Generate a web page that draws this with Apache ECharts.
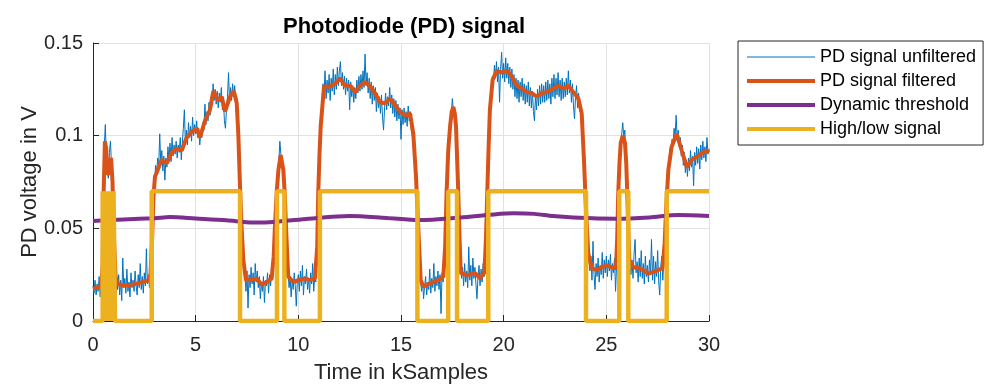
<!DOCTYPE html>
<html><head><meta charset="utf-8">
<script src="https://cdn.jsdelivr.net/npm/echarts@6/dist/echarts.min.js"></script>
<style>html,body{margin:0;padding:0;background:#fff}#c{width:987px;height:385px}</style>
</head><body><div id="c"></div>
<script>
// ---- data (time in kSamples, voltage in V) ----
const rawStep = 0.05; // sample spacing of the unfiltered trace (kSamples)
const rawPD = [
0.019,0.015,0.022,0.014,0.020,0.016,0.024,0.013,0.021,0.027,0.068,0.094,0.106,0.088,0.080,0.077,0.091,0.097,0.084,0.070,
0.052,0.031,0.004,0.023,0.017,0.025,0.014,0.022,0.011,0.034,0.018,0.023,0.015,0.028,0.016,0.021,0.013,0.026,0.018,0.022,
0.016,0.027,0.019,0.014,0.025,0.018,0.031,0.017,0.024,0.015,0.026,0.019,0.039,0.020,0.025,0.018,0.027,0.036,0.058,0.071,
0.076,0.084,0.079,0.088,0.083,0.101,0.085,0.092,0.081,0.089,0.076,0.088,0.083,0.094,0.087,0.096,0.086,0.099,0.089,0.095,
0.090,0.097,0.088,0.095,0.091,0.099,0.087,0.096,0.104,0.114,0.096,0.103,0.095,0.107,0.099,0.105,0.097,0.110,0.100,0.106,
0.101,0.108,0.099,0.104,0.095,0.102,0.099,0.107,0.103,0.117,0.106,0.113,0.108,0.118,0.111,0.121,0.117,0.128,0.119,0.125,
0.117,0.124,0.115,0.123,0.118,0.126,0.114,0.120,0.108,0.104,0.114,0.121,0.134,0.118,0.126,0.119,0.128,0.121,0.127,0.119,
0.121,0.110,0.095,0.075,0.058,0.045,0.035,0.027,0.024,0.016,0.027,0.007,0.025,0.018,0.029,0.020,0.026,0.014,0.031,0.021,
0.027,0.018,0.024,0.012,0.021,0.016,0.024,0.010,0.022,0.019,0.026,0.015,0.025,0.019,0.027,0.022,0.037,0.052,0.064,0.072,
0.079,0.086,0.097,0.090,0.086,0.080,0.072,0.063,0.050,0.036,0.026,0.018,0.024,0.013,0.022,0.017,0.026,0.019,0.008,0.021,
0.025,0.016,0.027,0.019,0.030,0.014,0.024,0.020,0.028,0.017,0.023,0.015,0.026,0.020,0.031,0.016,0.024,0.021,0.034,0.058,
0.080,0.098,0.108,0.118,0.128,0.122,0.135,0.120,0.130,0.123,0.133,0.119,0.131,0.124,0.136,0.122,0.133,0.125,0.137,0.127,
0.135,0.140,0.127,0.134,0.125,0.132,0.122,0.131,0.124,0.130,0.114,0.129,0.121,0.127,0.118,0.126,0.120,0.130,0.123,0.132,
0.124,0.133,0.125,0.135,0.126,0.144,0.127,0.134,0.123,0.131,0.120,0.129,0.117,0.127,0.119,0.126,0.113,0.123,0.115,0.121,
0.112,0.122,0.110,0.103,0.115,0.123,0.114,0.121,0.116,0.126,0.115,0.122,0.112,0.120,0.110,0.119,0.108,0.117,0.109,0.115,
0.098,0.114,0.106,0.115,0.107,0.113,0.105,0.116,0.108,0.113,0.103,0.104,0.097,0.090,0.083,0.072,0.060,0.046,0.032,0.022,
0.016,0.022,0.012,0.019,0.024,0.014,0.021,0.017,0.028,0.015,0.023,0.018,0.031,0.016,0.024,0.019,0.027,0.017,0.025,0.004,
0.026,0.021,0.028,0.042,0.064,0.082,0.094,0.102,0.108,0.112,0.120,0.114,0.113,0.106,0.094,0.078,0.061,0.044,0.030,0.023,
0.029,0.019,0.031,0.021,0.027,0.018,0.040,0.022,0.030,0.019,0.034,0.023,0.029,0.020,0.012,0.024,0.030,0.019,0.028,0.021,
0.031,0.024,0.033,0.047,0.068,0.092,0.108,0.118,0.124,0.132,0.128,0.138,0.131,0.140,0.129,0.137,0.118,0.136,0.145,0.131,
0.139,0.129,0.142,0.131,0.139,0.128,0.137,0.126,0.136,0.125,0.133,0.121,0.131,0.120,0.130,0.118,0.129,0.121,0.131,0.119,
0.128,0.117,0.127,0.118,0.129,0.116,0.126,0.115,0.124,0.113,0.108,0.122,0.114,0.125,0.116,0.127,0.117,0.128,0.118,0.127,
0.118,0.129,0.119,0.130,0.120,0.128,0.117,0.131,0.121,0.133,0.120,0.131,0.122,0.134,0.121,0.130,0.119,0.131,0.120,0.129,
0.121,0.131,0.122,0.135,0.123,0.130,0.118,0.128,0.116,0.109,0.121,0.127,0.115,0.123,0.113,0.117,0.108,0.099,0.088,0.073,
0.060,0.048,0.039,0.033,0.027,0.035,0.022,0.043,0.025,0.017,0.031,0.024,0.034,0.021,0.030,0.025,0.037,0.023,0.033,0.026,
0.035,0.024,0.033,0.027,0.036,0.022,0.031,0.026,0.034,0.016,0.030,0.050,0.073,0.088,0.097,0.101,0.107,0.099,0.103,0.090,
0.075,0.056,0.038,0.030,0.025,0.033,0.023,0.036,0.044,0.026,0.032,0.021,0.034,0.024,0.038,0.023,0.031,0.020,0.035,0.024,
0.030,0.021,0.033,0.025,0.044,0.022,0.035,0.020,0.032,0.024,0.038,0.021,0.014,0.029,0.035,0.022,0.032,0.045,0.062,0.072,
0.082,0.087,0.093,0.090,0.098,0.095,0.104,0.100,0.111,0.098,0.103,0.094,0.099,0.089,0.095,0.084,0.091,0.080,0.087,0.078,
0.088,0.081,0.092,0.083,0.089,0.073,0.091,0.084,0.094,0.085,0.093,0.082,0.095,0.087,0.097,0.088,0.094,0.086,0.099,0.090,
0.093
];
const filteredPD = [
[0,0.0175],[0.2,0.018],[0.4,0.019],[0.47,0.030],[0.52,0.070],[0.58,0.097],[0.64,0.093],[0.72,0.079],[0.80,0.082],[0.88,0.088],[0.95,0.075],[1.02,0.045],[1.10,0.024],[1.2,0.020],[1.5,0.019],[1.8,0.0195],[2.1,0.020],[2.4,0.021],[2.7,0.022],[2.8,0.025],[2.88,0.045],[2.95,0.068],[3.02,0.078],[3.10,0.080],[3.34,0.087],[3.59,0.085],[3.83,0.091],[4.08,0.093],[4.32,0.092],[4.56,0.099],[4.81,0.102],[5.05,0.104],[5.21,0.099],[5.45,0.108],[5.70,0.114],[5.86,0.124],[6.10,0.119],[6.27,0.121],[6.43,0.113],[6.67,0.121],[6.86,0.124],[7.00,0.1175],[7.08,0.100],[7.16,0.0725],[7.24,0.050],[7.32,0.033],[7.45,0.022],[7.65,0.022],[7.97,0.023],[8.22,0.0195],[8.46,0.021],[8.70,0.023],[8.80,0.035],[8.86,0.051],[8.95,0.070],[9.03,0.0815],[9.14,0.0895],[9.27,0.0815],[9.34,0.068],[9.40,0.051],[9.46,0.035],[9.51,0.024],[9.76,0.021],[10.0,0.022],[10.32,0.023],[10.57,0.022],[10.81,0.023],[10.92,0.040],[10.97,0.069],[11.03,0.090],[11.09,0.105],[11.25,0.1265],[11.54,0.1265],[11.79,0.128],[12.03,0.131],[12.27,0.127],[12.52,0.127],[12.76,0.1235],[13.0,0.127],[13.25,0.129],[13.49,0.1265],[13.73,0.123],[13.98,0.118],[14.22,0.1175],[14.46,0.120],[14.71,0.1165],[14.95,0.113],[15.20,0.111],[15.44,0.112],[15.60,0.101],[15.73,0.078],[15.84,0.051],[15.96,0.022],[16.09,0.0185],[16.33,0.020],[16.57,0.021],[16.82,0.022],[17.06,0.024],[17.15,0.040],[17.22,0.069],[17.30,0.092],[17.39,0.105],[17.47,0.113],[17.55,0.1155],[17.62,0.112],[17.68,0.105],[17.79,0.069],[17.85,0.045],[17.91,0.026],[18.12,0.025],[18.36,0.025],[18.60,0.026],[18.85,0.023],[19.06,0.026],[19.14,0.045],[19.20,0.069],[19.27,0.095],[19.33,0.114],[19.46,0.130],[19.66,0.135],[19.90,0.134],[20.15,0.135],[20.39,0.132],[20.63,0.127],[20.88,0.1255],[21.12,0.1235],[21.37,0.123],[21.61,0.121],[21.85,0.123],[22.10,0.1235],[22.42,0.1255],[22.66,0.127],[22.90,0.1255],[23.15,0.127],[23.39,0.1235],[23.64,0.120],[23.80,0.112],[23.91,0.087],[24.01,0.060],[24.12,0.0365],[24.29,0.0285],[24.53,0.0275],[24.77,0.029],[25.02,0.030],[25.26,0.029],[25.47,0.0285],[25.53,0.045],[25.58,0.069],[25.64,0.085],[25.70,0.096],[25.80,0.100],[25.91,0.096],[25.97,0.085],[26.02,0.069],[26.07,0.048],[26.12,0.033],[26.31,0.029],[26.56,0.0285],[26.80,0.0275],[27.04,0.0255],[27.29,0.0265],[27.53,0.0275],[27.74,0.0285],[27.84,0.042],[27.91,0.060],[28.02,0.0815],[28.18,0.094],[28.43,0.101],[28.67,0.092],[28.92,0.083],[29.16,0.087],[29.40,0.0885],[29.64,0.0905],[29.89,0.092],[30.0,0.091]
];
const thresholdPD = [
[0,0.054],[1.5,0.0548],[3,0.0555],[3.75,0.0561],[5,0.0553],[6.5,0.0543],[7.8,0.0531],[9,0.0536],[10.5,0.0552],[12.5,0.0567],[14.3,0.0556],[15.9,0.0545],[17.9,0.0559],[19.5,0.0575],[20.5,0.0581],[21.5,0.0578],[22.4,0.0567],[24.35,0.0554],[25.5,0.0552],[27.1,0.0559],[28.5,0.0572],[30,0.0567]
];
const highLevel = 0.07;
const highIntervals = [
[0.47,0.52],[0.55,0.60],[0.62,0.67],[0.70,0.75],[0.78,0.83],[0.86,0.90],[0.93,0.98],[1.00,1.07],
[2.86,7.16],[8.96,9.32],[11.05,15.80],[17.30,17.73],[19.25,24.01],[25.63,26.07],[27.94,30]
];
const seriesNames = ['PD signal unfiltered','PD signal filtered','Dynamic threshold','High/low signal'];
const seriesColors = ['#0072BD','#D95319','#7E2F8E','#EDB120'];
const seriesWidths = [1, 4, 4, 4.5];

// ---- build ----
const rawData = rawPD.map((v,i)=>[+(i*rawStep).toFixed(2), v]);
const highLow = [[0,0]];
highIntervals.forEach(([a,b])=>{
  highLow.push([a,0],[a,highLevel],[b,highLevel]);
  if (b < 30) highLow.push([b,0]);
});
if (highLow[highLow.length-1][0] < 30) highLow.push([30, highLow[highLow.length-1][1]]);

const FONT = '"Liberation Sans", Arial, Helvetica, sans-serif';
const AX = '#262626';
const chart = echarts.init(document.getElementById('c'), null, {renderer:'canvas'});
const axisCommon = {
  nameMoveOverlap:false,
  axisLine:{show:true, onZero:false, lineStyle:{color:AX, width:1}},
  axisTick:{show:true, inside:true, length:6, lineStyle:{color:AX}},
  splitLine:{show:true, lineStyle:{color:'#e2e2e2', width:1}},
  nameTextStyle:{fontFamily:FONT, fontSize:22, color:AX}
};
const datasets = [rawData, filteredPD, thresholdPD, highLow];
chart.setOption({
  animation:false,
  textStyle:{fontFamily:FONT},
  title:{text:'Photodiode (PD) signal', left:278, top:11,
    textStyle:{fontFamily:FONT, fontSize:22, fontWeight:'bold', color:'#000'}},
  grid:{left:93, right:278, top:43, bottom:64, containLabel:false, outerBoundsMode:'none'},
  legend:{
    data:seriesNames.map((n,i)=>({name:n, itemStyle:{opacity:0}, lineStyle:{width:i===0?1:4, color:seriesColors[i]}})),
    orient:'vertical', left:738, top:41,
    itemWidth:68, itemHeight:14, itemGap:4, padding:[6,7,6,7],
    borderColor:AX, borderWidth:1, backgroundColor:'#fff',
    textStyle:{fontFamily:FONT, fontSize:18, color:'#000', lineHeight:20},
    selectedMode:false
  },
  xAxis:Object.assign({type:'value', min:0, max:30, interval:5,
    name:'Time in kSamples', nameLocation:'middle', nameGap:41,
    axisLabel:{fontFamily:FONT, fontSize:20, color:AX, margin:14}}, axisCommon),
  yAxis:Object.assign({type:'value', min:0, max:0.15, interval:0.05,
    name:'PD voltage in V', nameLocation:'middle', nameGap:52,
    axisLabel:{fontFamily:FONT, fontSize:20, color:AX, margin:10,
      formatter:v=>String(+v.toFixed(2))}}, axisCommon),
  series:seriesNames.map((n,i)=>({
    name:n, type:'line', data:datasets[i], symbol:'none', smooth:i===2?0.3:false,
    lineStyle:{color:seriesColors[i], width:seriesWidths[i]}, itemStyle:{color:seriesColors[i]}
  }))
});
</script></body></html>
